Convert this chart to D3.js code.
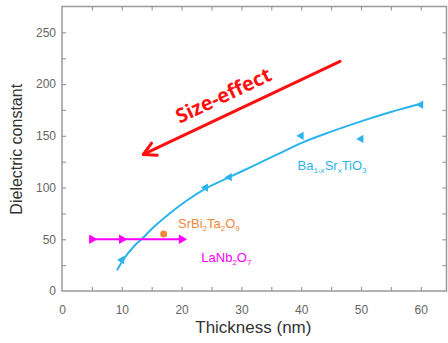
<!DOCTYPE html>
<html>
<head>
<meta charset="utf-8">
<script src="https://cdn.jsdelivr.net/npm/d3@7"></script>
<style>
  body { margin: 0; background: #fff; }
  svg { display: block; font-family: "Liberation Sans", Arial, sans-serif; }
</style>
</head>
<body>
<svg id="chart" width="448" height="343"></svg>
<script>
// values
var xTicks = [0, 10, 20, 30, 40, 50, 60];
var yTicks = [0, 50, 100, 150, 200, 250];

// Ba(1-x)Sr(x)TiO3 measured points and hand-drawn fit
var bstPoints = [[10, 30], [24, 100], [28, 110], [40, 150], [50, 147], [60, 180]];
var bstFit = [[9.2, 20], [10, 28], [12, 43], [13.3, 50], [15, 60], [18, 75], [21, 88], [24, 99],
              [28, 110], [32, 121], [36, 132], [40, 143], [45, 154], [50, 164], [55, 173], [60, 181]];

// LaNb2O7
var lnoPoints = [[5, 50], [10, 50], [20, 50]];
// SrBi2Ta2O9
var sbtPoints = [[17, 55]];

// size-effect arrow (data coords, tail -> head)
var arrowLine = [[46.5, 222], [13.6, 132]];

var svg = d3.select("#chart"),
    margin = {left: 62, right: 1.5, top: 6.5, bottom: 52},
    width = 448 - margin.left - margin.right,
    height = 343 - margin.top - margin.bottom;

var x = d3.scaleLinear().domain([0, 64.3]).range([0, width]),
    y = d3.scaleLinear().domain([0, 275]).range([height, 0]);

var g = svg.append("g").attr("transform", "translate(" + margin.left + "," + margin.top + ")");

var frameColor = "#9a9a9a",
    cyan = "#2bb4ec",
    magenta = "#ff00ff",
    orange = "#f0883a",
    red = "#ff1010";

// frame
g.append("rect")
    .attr("width", width).attr("height", height)
    .attr("fill", "none").attr("stroke", frameColor).attr("stroke-width", 1.5);

// inside ticks on all four sides (major + minor)
var xMinor = d3.range(5, 64, 10), yMinor = d3.range(25, 275, 50);
function tickAxis(axis, scale, vals, minor) {
    return axis(scale).tickValues(vals.concat(minor)).tickSizeInner(-4).tickSizeOuter(0).tickFormat("");
}
g.append("g").attr("transform", "translate(0," + height + ")").call(tickAxis(d3.axisBottom, x, xTicks.slice(1), xMinor));
g.append("g").call(tickAxis(d3.axisTop, x, xTicks.slice(1), xMinor));
g.append("g").call(tickAxis(d3.axisLeft, y, yTicks.slice(1), yMinor));
g.append("g").attr("transform", "translate(" + width + ",0)").call(tickAxis(d3.axisRight, y, yTicks.slice(1), yMinor));
g.selectAll(".domain").remove();
g.selectAll(".tick line").attr("stroke", frameColor).attr("stroke-width", 1.2);

// tick labels
var xLab = g.append("g").attr("transform", "translate(0," + height + ")")
    .call(d3.axisBottom(x).tickValues(xTicks).tickSize(0).tickPadding(14));
var yLab = g.append("g")
    .call(d3.axisLeft(y).tickValues(yTicks).tickSize(0).tickPadding(6));
[xLab, yLab].forEach(function(a) {
    a.select(".domain").remove();
    a.selectAll("text").attr("fill", "#666").attr("font-size", 12)
        .attr("font-family", "Liberation Sans, Arial, sans-serif");
});

// axis titles
svg.append("text")
    .attr("x", margin.left + x(32)).attr("y", 333)
    .attr("text-anchor", "middle").attr("font-size", 17).attr("fill", "#333")
    .text("Thickness (nm)");
svg.append("text")
    .attr("transform", "translate(22," + (margin.top + y(137)) + ") rotate(-90)")
    .attr("text-anchor", "middle").attr("font-size", 16).attr("fill", "#333")
    .text("Dielectric constant");

// BST fit curve
var line = d3.line().x(function(d) { return x(d[0]); }).y(function(d) { return y(d[1]); })
    .curve(d3.curveMonotoneX);
g.append("path").datum(bstFit)
    .attr("d", line).attr("fill", "none").attr("stroke", cyan).attr("stroke-width", 2);

var tri = d3.symbol().type(d3.symbolTriangle).size(30);
g.selectAll(".bst").data(bstPoints).enter().append("path")
    .attr("d", tri)
    .attr("transform", function(d) { return "translate(" + x(d[0]) + "," + y(d[1]) + ") rotate(-90)"; })
    .attr("fill", cyan);

// LaNb2O7
g.append("line")
    .attr("x1", x(lnoPoints[0][0])).attr("x2", x(lnoPoints[lnoPoints.length - 1][0]))
    .attr("y1", y(50)).attr("y2", y(50))
    .attr("stroke", magenta).attr("stroke-width", 2);
g.selectAll(".lno").data(lnoPoints).enter().append("path")
    .attr("d", d3.symbol().type(d3.symbolTriangle).size(40))
    .attr("transform", function(d) { return "translate(" + x(d[0]) + "," + y(d[1]) + ") rotate(90)"; })
    .attr("fill", magenta);

// SrBi2Ta2O9
g.selectAll(".sbt").data(sbtPoints).enter().append("circle")
    .attr("cx", function(d) { return x(d[0]); }).attr("cy", function(d) { return y(d[1]); })
    .attr("r", 3.5).attr("fill", orange);

// compound labels with subscripts
function formula(px, py, color, parts) {
    var t = g.append("text").attr("x", x(px)).attr("y", y(py))
        .attr("font-size", 13).attr("fill", color);
    parts.forEach(function(p) {
        var s = t.append("tspan").text(p[0]);
        if (p[1]) s.attr("font-size", 8).attr("dy", 3);
        else if (p[2]) s.attr("dy", -3);
    });
}
formula(39.4, 117, cyan, [["Ba"], ["1-x", 1], ["Sr", 0, 1], ["x", 1], ["TiO", 0, 1], ["3", 1]]);
formula(19.4, 61, orange, [["SrBi"], ["2", 1], ["Ta", 0, 1], ["2", 1], ["O", 0, 1], ["9", 1]]);
formula(23.3, 28, magenta, [["LaNb"], ["2", 1], ["O", 0, 1], ["7", 1]]);

// size-effect arrow
var ax0 = x(arrowLine[0][0]), ay0 = y(arrowLine[0][1]),
    ax1 = x(arrowLine[1][0]), ay1 = y(arrowLine[1][1]);
var ang = Math.atan2(ay1 - ay0, ax1 - ax0);
g.append("line")
    .attr("x1", ax0).attr("y1", ay0).attr("x2", ax1).attr("y2", ay1)
    .attr("stroke", red).attr("stroke-width", 3).attr("stroke-linecap", "round");
var headLen = 14, headAng = 0.5;
g.append("path")
    .attr("d", "M" + (ax1 - headLen * Math.cos(ang - headAng)) + "," + (ay1 - headLen * Math.sin(ang - headAng)) +
               "L" + ax1 + "," + ay1 +
               "L" + (ax1 - headLen * Math.cos(ang + headAng)) + "," + (ay1 - headLen * Math.sin(ang + headAng)))
    .attr("fill", "none").attr("stroke", red).attr("stroke-width", 3)
    .attr("stroke-linecap", "round").attr("stroke-linejoin", "round");

g.append("text")
    .attr("transform", "translate(" + x(27.5) + "," + y(183) + ") rotate(" + (ang * 180 / Math.PI - 180) + ")")
    .attr("text-anchor", "middle").attr("font-size", 20).attr("font-weight", "bold")
    .attr("font-family", "Open Sans, sans-serif").attr("fill", red)
    .text("Size-effect");
</script>
</body>
</html>
